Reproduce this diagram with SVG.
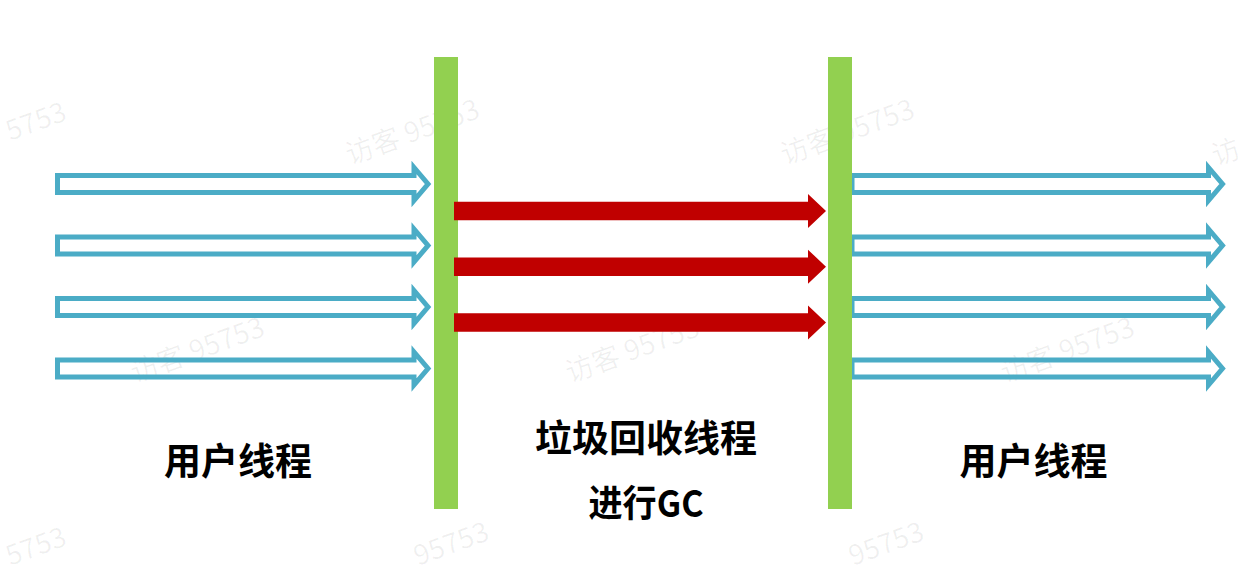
<svg xmlns="http://www.w3.org/2000/svg" width="1247" height="573" viewBox="0 0 1247 573">
<style>
.wm{font-family:"Noto Sans CJK SC","Noto Sans",sans-serif;font-size:28px;fill:#000;fill-opacity:0.06}
.bar{fill:#92D050}
.ut{fill:none;stroke:#4BACC6;stroke-width:5;stroke-linejoin:miter}
.gc{fill:#C00000}
.lbl{font-family:"Noto Sans CJK SC","Noto Sans",sans-serif;font-weight:bold;font-size:37px;fill:#000;text-anchor:middle}
</style>
<defs>
<path id="ua" d="M0,-8.5 H356.5 V-16.5 L370.5,0 L356.5,16.5 V8.5 H0 Z"/>
<path id="ga" d="M0,-9.2 H354 V-17 L372,0 L354,17 V9.2 H0 Z"/>
</defs>
<rect width="1247" height="573" fill="#fff"/>
<g id="watermarks">
<text class="wm" transform="translate(10,141) rotate(-20)">5753</text>
<text class="wm" transform="translate(350,165) rotate(-20)">访客 95753</text>
<text class="wm" transform="translate(785,165) rotate(-20)">访客 95753</text>
<text class="wm" transform="translate(1216,166) rotate(-20)">访</text>
<text class="wm" transform="translate(135,383) rotate(-20)">访客 95753</text>
<text class="wm" transform="translate(570,383) rotate(-20)">访客 95753</text>
<text class="wm" transform="translate(1005,383) rotate(-20)">访客 95753</text>
<text class="wm" transform="translate(10,566) rotate(-20)">5753</text>
<text class="wm" transform="translate(418,566) rotate(-20)">95753</text>
<text class="wm" transform="translate(853,566) rotate(-20)">95753</text>
</g>
<g id="connectors">
<use href="#ua" class="ut" x="57.5" y="184"/>
<use href="#ua" class="ut" x="57.5" y="245.5"/>
<use href="#ua" class="ut" x="57.5" y="307"/>
<use href="#ua" class="ut" x="57.5" y="368.5"/>
<use href="#ua" class="ut" x="852" y="184"/>
<use href="#ua" class="ut" x="852" y="245.5"/>
<use href="#ua" class="ut" x="852" y="307"/>
<use href="#ua" class="ut" x="852" y="368.5"/>
</g>
<g id="bar-left"><rect class="bar" x="434" y="57" width="24" height="452"/></g>
<g id="bar-right"><rect class="bar" x="828" y="57" width="24" height="452"/></g>
<g id="gc-arrows">
<use href="#ga" class="gc" x="454" y="211"/>
<use href="#ga" class="gc" x="454" y="266.7"/>
<use href="#ga" class="gc" x="454" y="322.5"/>
</g>
<g id="label-user-left"><text class="lbl" x="238" y="475">用户线程</text></g>
<g id="label-gc"><text class="lbl" x="646" y="452">垃圾回收线程</text><text class="lbl" x="646" y="517" textLength="115" lengthAdjust="spacingAndGlyphs">进行GC</text></g>
<g id="label-user-right"><text class="lbl" x="1033.5" y="475">用户线程</text></g>
</svg>
